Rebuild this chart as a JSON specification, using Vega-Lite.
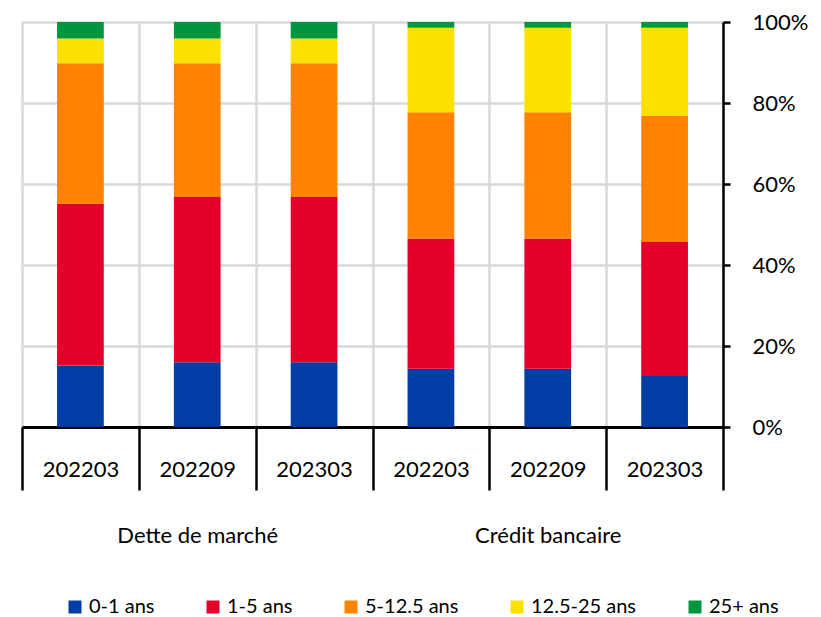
{
  "$schema": "https://vega.github.io/schema/vega-lite/v6.json",
  "width": 701,
  "height": 405,
  "padding": {"left": 20, "top": 11, "right": 5, "bottom": 5},
  "config": {"view": {"stroke": null}},
  "data": {
    "values": [
      {"grp": "Dette de marché", "bar": "D202203", "maturity": "0-1 ans", "k": 1, "v": 15.2},
      {"grp": "Dette de marché", "bar": "D202203", "maturity": "1-5 ans", "k": 2, "v": 39.9},
      {"grp": "Dette de marché", "bar": "D202203", "maturity": "5-12.5 ans", "k": 3, "v": 34.7},
      {"grp": "Dette de marché", "bar": "D202203", "maturity": "12.5-25 ans", "k": 4, "v": 6.1},
      {"grp": "Dette de marché", "bar": "D202203", "maturity": "25+ ans", "k": 5, "v": 4.1},
      {"grp": "Dette de marché", "bar": "D202209", "maturity": "0-1 ans", "k": 1, "v": 16.0},
      {"grp": "Dette de marché", "bar": "D202209", "maturity": "1-5 ans", "k": 2, "v": 40.8},
      {"grp": "Dette de marché", "bar": "D202209", "maturity": "5-12.5 ans", "k": 3, "v": 33.0},
      {"grp": "Dette de marché", "bar": "D202209", "maturity": "12.5-25 ans", "k": 4, "v": 6.1},
      {"grp": "Dette de marché", "bar": "D202209", "maturity": "25+ ans", "k": 5, "v": 4.1},
      {"grp": "Dette de marché", "bar": "D202303", "maturity": "0-1 ans", "k": 1, "v": 16.0},
      {"grp": "Dette de marché", "bar": "D202303", "maturity": "1-5 ans", "k": 2, "v": 40.8},
      {"grp": "Dette de marché", "bar": "D202303", "maturity": "5-12.5 ans", "k": 3, "v": 33.0},
      {"grp": "Dette de marché", "bar": "D202303", "maturity": "12.5-25 ans", "k": 4, "v": 6.1},
      {"grp": "Dette de marché", "bar": "D202303", "maturity": "25+ ans", "k": 5, "v": 4.1},
      {"grp": "Crédit bancaire", "bar": "E202203", "maturity": "0-1 ans", "k": 1, "v": 14.4},
      {"grp": "Crédit bancaire", "bar": "E202203", "maturity": "1-5 ans", "k": 2, "v": 32.1},
      {"grp": "Crédit bancaire", "bar": "E202203", "maturity": "5-12.5 ans", "k": 3, "v": 31.2},
      {"grp": "Crédit bancaire", "bar": "E202203", "maturity": "12.5-25 ans", "k": 4, "v": 20.9},
      {"grp": "Crédit bancaire", "bar": "E202203", "maturity": "25+ ans", "k": 5, "v": 1.4},
      {"grp": "Crédit bancaire", "bar": "E202209", "maturity": "0-1 ans", "k": 1, "v": 14.4},
      {"grp": "Crédit bancaire", "bar": "E202209", "maturity": "1-5 ans", "k": 2, "v": 32.1},
      {"grp": "Crédit bancaire", "bar": "E202209", "maturity": "5-12.5 ans", "k": 3, "v": 31.2},
      {"grp": "Crédit bancaire", "bar": "E202209", "maturity": "12.5-25 ans", "k": 4, "v": 20.9},
      {"grp": "Crédit bancaire", "bar": "E202209", "maturity": "25+ ans", "k": 5, "v": 1.4},
      {"grp": "Crédit bancaire", "bar": "E202303", "maturity": "0-1 ans", "k": 1, "v": 12.6},
      {"grp": "Crédit bancaire", "bar": "E202303", "maturity": "1-5 ans", "k": 2, "v": 33.1},
      {"grp": "Crédit bancaire", "bar": "E202303", "maturity": "5-12.5 ans", "k": 3, "v": 31.1},
      {"grp": "Crédit bancaire", "bar": "E202303", "maturity": "12.5-25 ans", "k": 4, "v": 21.8},
      {"grp": "Crédit bancaire", "bar": "E202303", "maturity": "25+ ans", "k": 5, "v": 1.4}
    ]
  },
  "mark": {"type": "bar", "width": {"band": 0.4}},
  "encoding": {
    "x": {
      "field": "bar", "type": "nominal",
      "scale": {"paddingInner": 0, "paddingOuter": 0},
      "axis": {
        "title": null,
        "labelExpr": "!isValid(datum.value) ? '' : (datum.value === 'D202209' ? ['202209', 'Dette de marché'] : (datum.value === 'E202209' ? ['202209', 'Crédit bancaire'] : substring(datum.value, 1)))",
        "labelAngle": 0,
        "labelFontSize": 22,
        "labelFont": "Lato",
        "labelColor": "#000000",
        "labelBaseline": "top",
        "labelLineHeight": 66,
        "labelPadding": -31,
        "labelOverlap": false,
        "labelBound": false,
        "domainColor": "#000000",
        "domainWidth": 3,
        "tickBand": "extent",
        "tickColor": "#000000",
        "tickSize": 63,
        "tickWidth": 2.5,
        "grid": true,
        "gridColor": "#d9d9d9",
        "gridWidth": 2.5,
        "encode": {
          "ticks": {
            "update": {
              "y2": {"signal": "(datum.extra || datum.value === 'D202303' || datum.value === 'E202303') ? 258 : 126"}
            }
          }
        }
      }
    },
    "y": {
      "field": "v", "type": "quantitative", "stack": "normalize",
      "axis": {
        "orient": "right",
        "title": null,
        "format": ".0%",
        "values": [0, 0.2, 0.4, 0.6, 0.8, 1],
        "labelFontSize": 22,
        "labelFont": "Lato",
        "labelColor": "#000000",
        "labelPadding": 22,
        "tickSize": 7,
        "tickWidth": 2.5,
        "tickColor": "#000000",
        "domainColor": "#000000",
        "domainWidth": 2.5,
        "grid": true,
        "gridColor": "#d9d9d9",
        "gridWidth": 2.5
      }
    },
    "order": {"field": "k", "type": "quantitative"},
    "color": {
      "field": "maturity", "type": "nominal",
      "scale": {
        "domain": ["0-1 ans", "1-5 ans", "5-12.5 ans", "12.5-25 ans", "25+ ans"],
        "range": ["#003DA5", "#E4002B", "#FF8200", "#FAE100", "#00963F"]
      },
      "legend": {
        "title": null,
        "orient": "none",
        "direction": "horizontal",
        "legendX": 43,
        "legendY": 575,
        "padding": 0,
        "symbolType": "square",
        "symbolSize": 169,
        "labelFontSize": 20,
        "labelFont": "Lato",
        "labelColor": "#000000",
        "labelOffset": 4,
        "columnPadding": 48
      }
    }
  }
}
